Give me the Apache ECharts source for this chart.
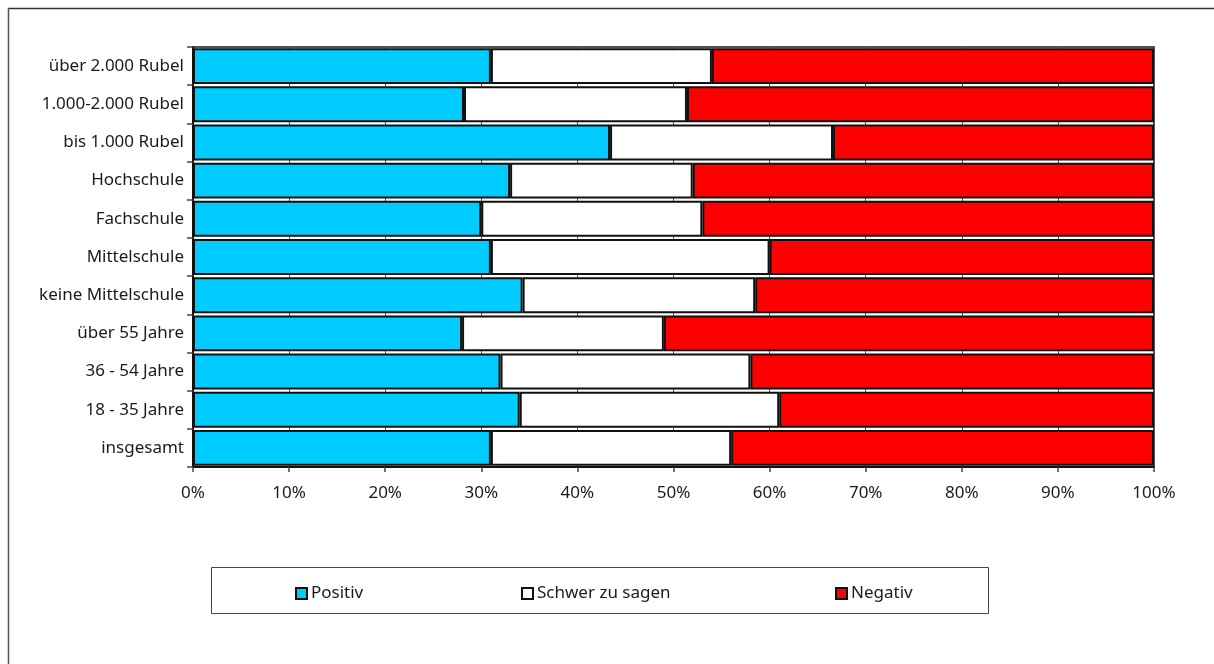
<!DOCTYPE html>
<html>
<head>
<meta charset="utf-8">
<script src="https://cdn.jsdelivr.net/npm/echarts@6/dist/echarts.min.js"></script>
<style>
  html, body { margin: 0; padding: 0; background: #fff; }
  #chart { width: 1214px; height: 664px; }
</style>
</head>
<body>
<div id="chart"></div>
<script>
// Groups, listed bottom to top as the category axis draws them
const categories = [
  'insgesamt',
  '18 - 35 Jahre',
  '36 - 54 Jahre',
  'über 55 Jahre',
  'keine Mittelschule',
  'Mittelschule',
  'Fachschule',
  'Hochschule',
  'bis 1.000 Rubel',
  '1.000-2.000 Rubel',
  'über 2.000 Rubel'
];

// Shares of answers per group, in percent
const positiv = [31, 34, 32, 28, 34.3, 31, 30, 33, 43.4, 28.2, 31];
const schwerZuSagen = [25, 27, 26, 21, 24.2, 29, 23, 19, 23.2, 23.2, 23];
const negativ = [44, 39, 42, 51, 41.5, 40, 47, 48, 33.4, 48.6, 46];

const seriesNames = ['Positiv', 'Schwer zu sagen', 'Negativ'];
const seriesColors = ['#00ccff', '#ffffff', '#ff0000'];
const seriesValues = [positiv, schwerZuSagen, negativ];

const FONT = '"Noto Sans", "DejaVu Sans", sans-serif';
const TEXT_COLOR = '#1a1a1a';

const chart = echarts.init(document.getElementById('chart'), null, { renderer: 'canvas' });

const legendLeft = [290, 516, 830];

chart.setOption({
  animation: false,
  backgroundColor: '#ffffff',
  textStyle: { fontFamily: FONT },
  grid: {
    left: 193,
    right: 60,
    top: 47,
    bottom: 197,
    show: true,
    borderColor: '#1a1a1a',
    borderWidth: 1.5,
    backgroundColor: 'transparent'
  },
  xAxis: {
    type: 'value',
    min: 0,
    max: 100,
    interval: 10,
    axisLine: { show: true, lineStyle: { color: '#111', width: 2 } },
    axisTick: { show: true, length: 5, lineStyle: { color: '#444', width: 1.5 } },
    splitLine: { show: true, lineStyle: { color: '#555', width: 1 } },
    axisLabel: {
      formatter: '{value}%',
      color: TEXT_COLOR,
      fontFamily: FONT,
      fontSize: 17,
      margin: 18
    }
  },
  yAxis: {
    type: 'category',
    data: categories,
    axisLine: { show: true, lineStyle: { color: '#111', width: 2 } },
    axisTick: { show: true, length: 6, lineStyle: { color: '#444', width: 1.5 } },
    axisLabel: {
      color: TEXT_COLOR,
      fontFamily: FONT,
      fontSize: 17,
      margin: 9
    }
  },
  legend: seriesNames.map((name, i) => ({
    data: [name],
    left: legendLeft[i],
    top: 580,
    icon: 'rect',
    itemWidth: 11,
    itemHeight: 11,
    itemGap: 0,
    textStyle: { color: TEXT_COLOR, fontFamily: FONT, fontSize: 17, padding: [0, 0, 0, -1] },
    selectedMode: false
  })),
  series: seriesNames.map((name, i) => ({
    name: name,
    type: 'bar',
    stack: 'total',
    data: seriesValues[i],
    barCategoryGap: '6%',
    itemStyle: {
      color: seriesColors[i],
      borderColor: '#111',
      borderWidth: 2
    }
  })),
  graphic: [
    // outer frame (top and left edges)
    { type: 'line', shape: { x1: 8, y1: 8.5, x2: 1214, y2: 8.5 }, style: { stroke: '#333', lineWidth: 1.5 } },
    { type: 'line', shape: { x1: 8.5, y1: 8, x2: 8.5, y2: 664 }, style: { stroke: '#555', lineWidth: 1.5 } },
    // legend box
    { type: 'rect', shape: { x: 211.5, y: 567.5, width: 777, height: 46 }, style: { fill: 'none', stroke: '#444', lineWidth: 1 }, z: -1 }
  ]
});
</script>
</body>
</html>
